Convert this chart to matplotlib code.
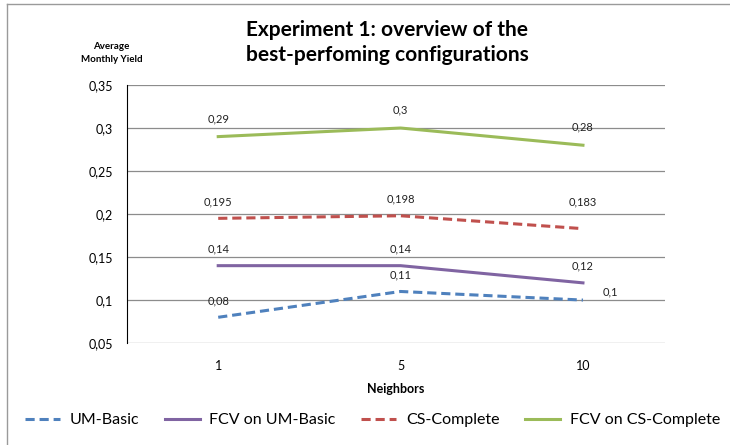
import numpy as np
import matplotlib.pyplot as plt
from matplotlib.lines import Line2D

neighbors = ['1', '5', '10']
series_names = ['UM-Basic', 'FCV on UM-Basic', 'CS-Complete', 'FCV on CS-Complete']
um_basic = [0.08, 0.11, 0.10]
fcv_um_basic = [0.14, 0.14, 0.12]
cs_complete = [0.195, 0.198, 0.183]
fcv_cs_complete = [0.29, 0.30, 0.28]
label_text = {
    'UM-Basic': ['0,08', '0,11', '0,1'],
    'FCV on UM-Basic': ['0,14', '0,14', '0,12'],
    'CS-Complete': ['0,195', '0,198', '0,183'],
    'FCV on CS-Complete': ['0,29', '0,3', '0,28'],
}
yticks = [0.05, 0.1, 0.15, 0.2, 0.25, 0.3, 0.35]
ytick_labels = ['0,05', '0,1', '0,15', '0,2', '0,25', '0,3', '0,35']


def main():
    plt.rcParams['font.family'] = ['Lato', 'DejaVu Sans']
    styles = [('#4F81BD', (0, (3, 1.6))), ('#8064A2', '-'), ('#C0504D', (0, (3, 1.6))), ('#9BBB59', '-')]
    values = [um_basic, fcv_um_basic, cs_complete, fcv_cs_complete]
    # label offsets in points (dx, dy)
    offsets = {
        'UM-Basic': [(0, 12), (0, 12), (20, 6)],
        'FCV on UM-Basic': [(0, 12), (0, 12), (0, 12)],
        'CS-Complete': [(0, 12), (0, 12), (0, 19)],
        'FCV on CS-Complete': [(0, 13), (0, 13), (0, 13)],
    }

    fig = plt.figure(figsize=(7.3, 4.45), dpi=100)
    ax = fig.add_axes([0.174, 0.229, 0.737, 0.58])
    x = np.arange(len(neighbors))
    for name, vals, (c, ls) in zip(series_names, values, styles):
        ax.plot(x, vals, color=c, linestyle=ls, linewidth=2.2, label=name)
        for xi, v, t, off in zip(x, vals, label_text[name], offsets[name]):
            ax.annotate(t, (xi, v), xytext=off, textcoords='offset points',
                        ha='center', va='center', fontsize=8, color='#222222')

    ax.set_ylim(0.05, 0.35)
    ax.set_xlim(-0.5, 2.45)
    ax.set_yticks(yticks)
    ax.set_yticklabels(ytick_labels, fontsize=9)
    ax.set_xticks(x)
    ax.set_xticklabels(neighbors, fontsize=9)
    ax.tick_params(length=0, pad=10)
    ax.tick_params(axis='x', pad=12)
    ax.grid(axis='y', color='#8c8c8c', linewidth=0.9)
    ax.set_axisbelow(True)
    for s in ['top', 'right', 'bottom']:
        ax.spines[s].set_visible(False)
    ax.spines['left'].set_linestyle((0, (1, 1)))
    ax.spines['left'].set_linewidth(0.8)
    ax.set_xlabel('Neighbors', fontsize=9, fontweight='bold', labelpad=8)

    fig.text(0.53, 0.905, 'Experiment 1: overview of the\nbest-perfoming configurations',
             ha='center', va='center', fontsize=15, fontweight='bold', linespacing=1.3)
    fig.text(0.153, 0.88, 'Average\nMonthly Yield', ha='center', va='center',
             fontsize=7, fontweight='bold', linespacing=1.6)

    ax.legend(loc='center', bbox_to_anchor=(0.51, 0.056), bbox_transform=fig.transFigure,
              ncol=4, frameon=False, fontsize=11.5, handlelength=2.2, columnspacing=1.6,
              handletextpad=0.6)

    # outer chart border (left and top)
    fig.add_artist(Line2D([7 / 730, 7 / 730], [0, 1 - 4 / 445], color='#9a9a9a', linewidth=1))
    fig.add_artist(Line2D([7 / 730, 1], [1 - 4 / 445, 1 - 4 / 445], color='#9a9a9a', linewidth=1))

    fig.savefig('out.png', dpi=100)


if __name__ == "__main__":
    main()
